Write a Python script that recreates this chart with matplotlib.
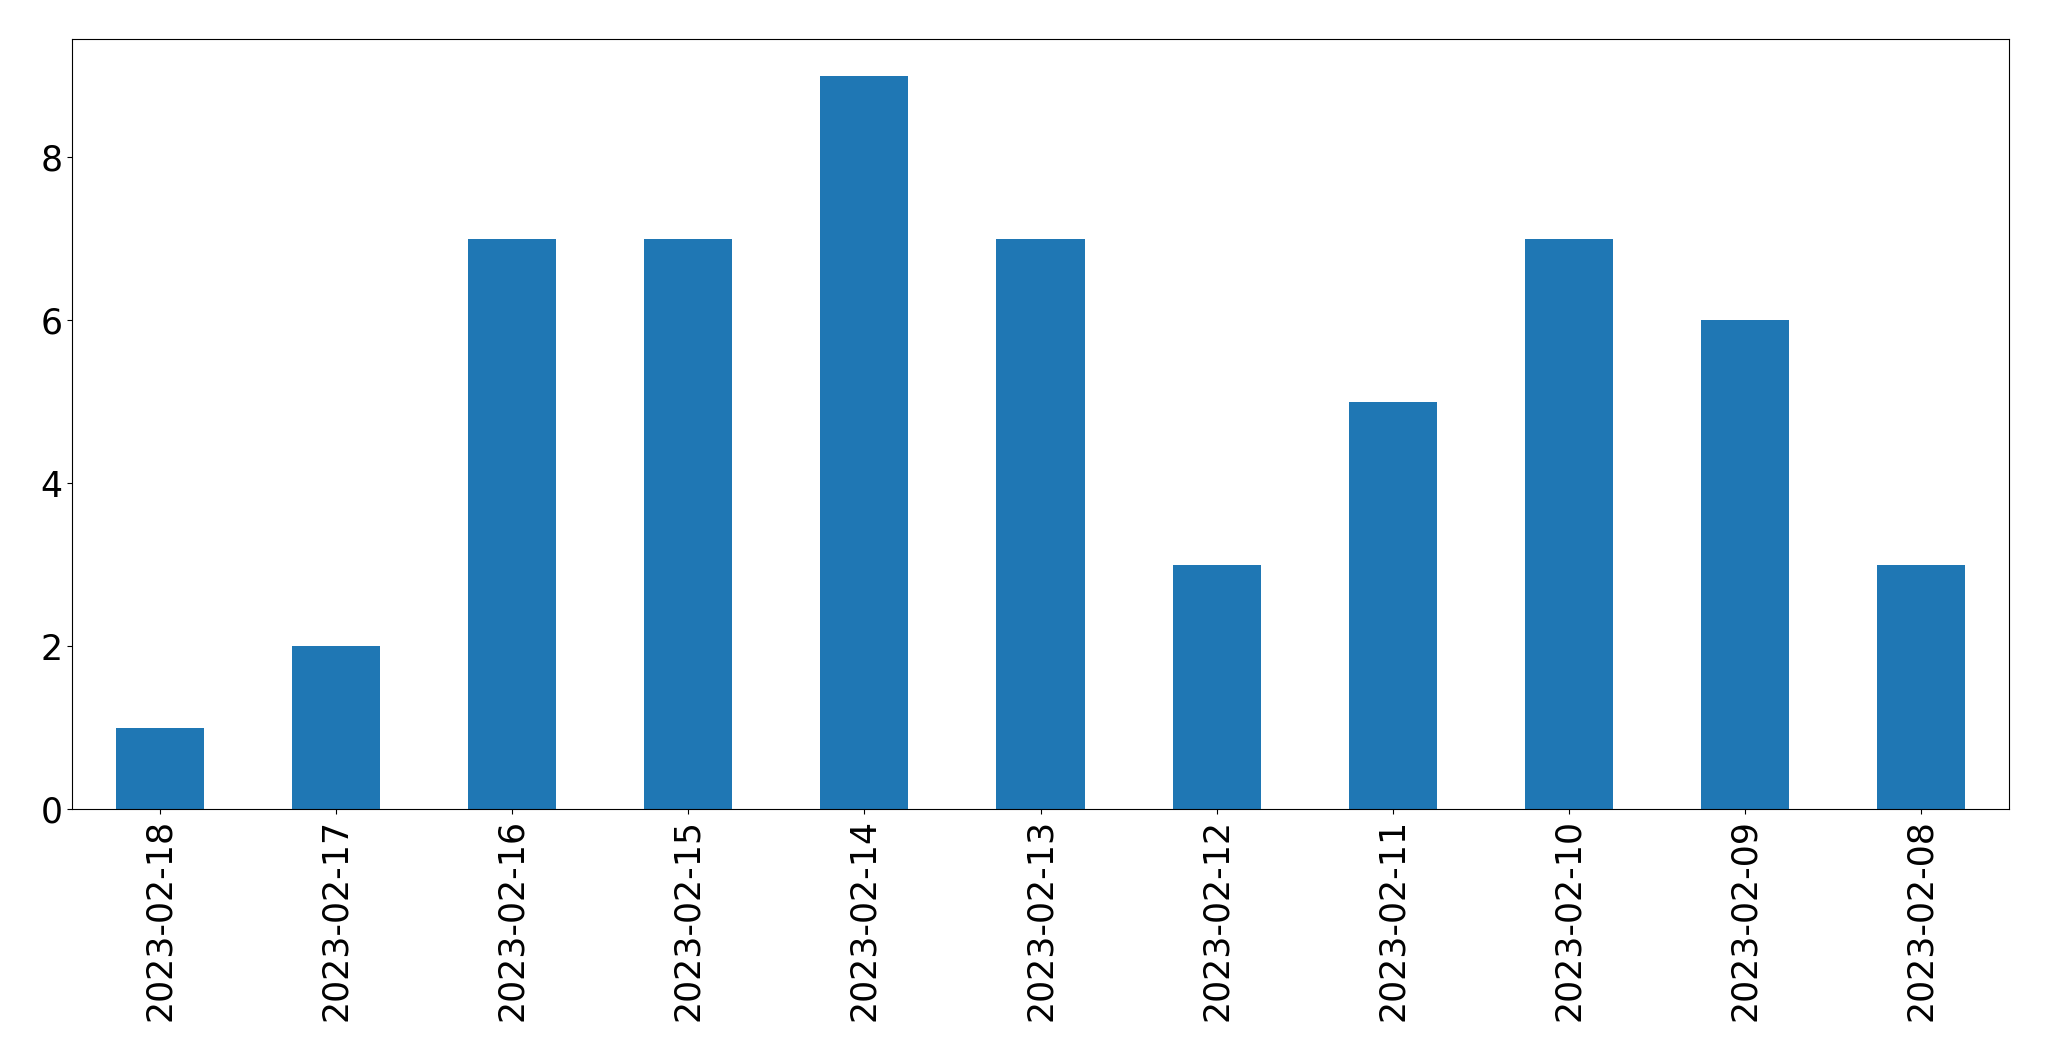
import matplotlib
matplotlib.use("Agg")
import pandas as pd
from matplotlib import pyplot as plt

dates = ["2023-02-18", "2023-02-17", "2023-02-16", "2023-02-15", "2023-02-14", "2023-02-13",
         "2023-02-12", "2023-02-11", "2023-02-10", "2023-02-09", "2023-02-08"]
counts = [1, 2, 7, 7, 9, 7, 3, 5, 7, 6, 3]

fig = plt.figure(figsize=(20.49, 10.61), dpi=100)
ax = fig.add_axes([72 / 2049, 1 - 809 / 1061, (2009 - 72) / 2049, (809 - 39) / 1061])

s = pd.Series(counts, index=dates)
s.plot.bar(ax=ax, color="#1f77b4")

ax.tick_params(axis="both", labelsize=25)
ax.set_xlabel("")

fig.savefig("out.png", dpi=100)
